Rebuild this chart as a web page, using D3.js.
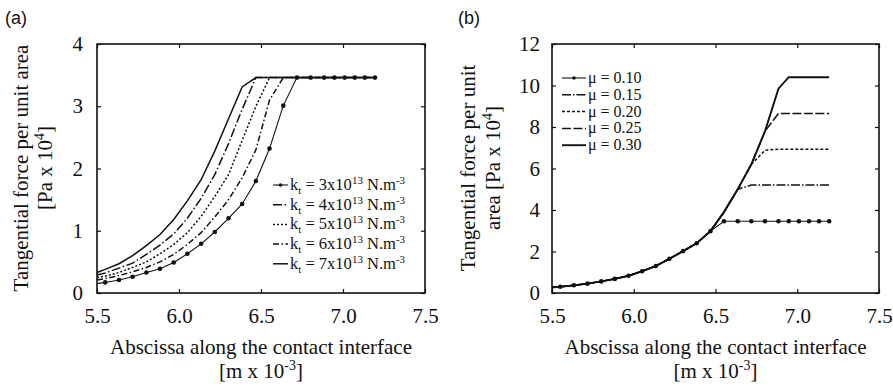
<!DOCTYPE html>
<html>
<head>
<meta charset="utf-8">
<script src="https://cdn.jsdelivr.net/npm/d3@7"></script>
<style>
  body { margin: 0; background: #fff; }
  svg { display: block; }
  text { font-family: "Liberation Serif", "Times New Roman", serif; fill: #111; }
</style>
</head>
<body>
<script>
// shared abscissa grid [m x 10^-3]
const xGrid = [5.5, 5.55, 5.634, 5.717, 5.801, 5.884, 5.968, 6.051, 6.135, 6.218, 6.302, 6.385, 6.469,
  6.552, 6.636, 6.719, 6.803, 6.885, 6.948, 7.01, 7.072, 7.133, 7.195];

// panel (a): stiffness kt
const ktLabels = ["3", "4", "5", "6", "7"];
const kt3 = [0.15, 0.17, 0.21, 0.26, 0.33, 0.39, 0.49, 0.63, 0.79, 0.98, 1.2, 1.43, 1.8,
  2.32, 3.01, 3.46, 3.46, 3.46, 3.46, 3.46, 3.46, 3.46, 3.46];
const kt4 = [0.29, 0.32, 0.4, 0.48, 0.62, 0.77, 0.95, 1.2, 1.52, 1.9, 2.4, 2.95, 3.46,
  3.46, 3.46, 3.46, 3.46, 3.46, 3.46, 3.46, 3.46, 3.46, 3.46];
const kt5 = [0.25, 0.27, 0.33, 0.41, 0.5, 0.63, 0.78, 0.97, 1.23, 1.55, 1.9, 2.45, 3.0,
  3.46, 3.46, 3.46, 3.46, 3.46, 3.46, 3.46, 3.46, 3.46, 3.46];
const kt6 = [0.21, 0.23, 0.28, 0.34, 0.41, 0.5, 0.62, 0.78, 0.97, 1.22, 1.5, 1.85, 2.3,
  3.1, 3.46, 3.46, 3.46, 3.46, 3.46, 3.46, 3.46, 3.46, 3.46];
const kt7 = [0.33, 0.38, 0.47, 0.6, 0.76, 0.94, 1.18, 1.48, 1.82, 2.28, 2.8, 3.31, 3.46,
  3.46, 3.46, 3.46, 3.46, 3.46, 3.46, 3.46, 3.46, 3.46, 3.46];

// panel (b): friction coefficient mu
const muLabels = ["0.10", "0.15", "0.20", "0.25", "0.30"];
const mu10 = [0.27, 0.3, 0.37, 0.45, 0.56, 0.68, 0.83, 1.05, 1.3, 1.65, 2.02, 2.4, 2.98,
  3.46, 3.46, 3.46, 3.46, 3.46, 3.46, 3.46, 3.46, 3.46, 3.46];
const mu15 = [0.27, 0.3, 0.37, 0.45, 0.56, 0.68, 0.83, 1.05, 1.3, 1.65, 2.02, 2.4, 2.98,
  3.9, 5.0, 5.2, 5.2, 5.2, 5.2, 5.2, 5.2, 5.2, 5.2];
const mu20 = [0.27, 0.3, 0.37, 0.45, 0.56, 0.68, 0.83, 1.05, 1.3, 1.65, 2.02, 2.4, 2.98,
  3.9, 5.0, 6.2, 6.88, 6.93, 6.93, 6.93, 6.93, 6.93, 6.93];
const mu25 = [0.27, 0.3, 0.37, 0.45, 0.56, 0.68, 0.83, 1.05, 1.3, 1.65, 2.02, 2.4, 2.98,
  3.9, 5.0, 6.2, 7.8, 8.65, 8.65, 8.65, 8.65, 8.65, 8.65];
const mu30 = [0.27, 0.3, 0.37, 0.45, 0.56, 0.68, 0.83, 1.05, 1.3, 1.65, 2.02, 2.4, 2.98,
  3.9, 5.0, 6.2, 7.8, 9.85, 10.4, 10.4, 10.4, 10.4, 10.4];

const xTicks = [5.5, 6.0, 6.5, 7.0, 7.5];
const yTicksA = [0, 1, 2, 3, 4];
const yTicksB = [0, 2, 4, 6, 8, 10, 12];

const serif = "'Liberation Serif', 'Times New Roman', serif";

const svg = d3.select("body").append("svg")
  .attr("width", 893)
  .attr("height", 388);

function drawPanel(cfg) {
  const x = d3.scaleLinear().domain([5.5, 7.5]).range([cfg.left, cfg.right]);
  const y = d3.scaleLinear().domain([0, cfg.yMax]).range([293, 44]);
  const g = svg.append("g");

  // inside ticks on all four sides
  const tick = 4;
  const axes = [];
  axes.push(g.append("g").attr("transform", "translate(0,293)")
    .call(d3.axisBottom(x).tickValues(xTicks).tickFormat(d3.format(".1f"))
      .tickSizeInner(-tick).tickSizeOuter(0).tickPadding(15)));
  axes.push(g.append("g").attr("transform", "translate(0,44)")
    .call(d3.axisTop(x).tickValues(xTicks).tickFormat("").tickSizeInner(-tick).tickSizeOuter(0)));
  axes.push(g.append("g").attr("transform", "translate(" + cfg.left + ",0)")
    .call(d3.axisLeft(y).tickValues(cfg.yTicks).tickFormat(d3.format("d"))
      .tickSizeInner(-tick).tickSizeOuter(0).tickPadding(cfg.yPad)));
  axes.push(g.append("g").attr("transform", "translate(" + cfg.right + ",0)")
    .call(d3.axisRight(y).tickValues(cfg.yTicks).tickFormat("").tickSizeInner(-tick).tickSizeOuter(0)));
  axes.forEach(a => a.attr("font-family", serif).attr("font-size", 21));
  g.selectAll(".domain").remove();
  g.selectAll(".tick line").attr("stroke", "#111").attr("stroke-width", 1.2);
  g.selectAll(".tick text")
    .attr("font-family", serif)
    .style("font-family", serif)
    .style("font-size", "21px")
    .attr("fill", "#111");

  // plot frame
  g.append("rect")
    .attr("x", cfg.left).attr("y", 44)
    .attr("width", cfg.right - cfg.left).attr("height", 249)
    .attr("fill", "none").attr("stroke", "#111").attr("stroke-width", 1.6);

  const line = d3.line().x((d, i) => x(xGrid[i])).y(d => y(d));

  cfg.series.forEach(s => {
    g.append("path")
      .datum(s.values)
      .attr("d", line)
      .attr("fill", "none")
      .attr("stroke", "#111")
      .attr("stroke-width", s.width)
      .attr("stroke-dasharray", s.dash);
  });

  // markers on the first series (skip the start point on the axis)
  const marked = cfg.series.find(s => s.marker);
  g.selectAll("circle.pt")
    .data(marked.values.slice(1))
    .enter().append("circle")
    .attr("class", "pt")
    .attr("cx", (d, i) => x(xGrid[i + 1]))
    .attr("cy", d => y(d))
    .attr("r", 2.3)
    .attr("fill", "#111");

  // legend
  const leg = g.append("g");
  cfg.legendOrder.forEach((s, i) => {
    const ly = cfg.legY + i * cfg.legStep;
    leg.append("line")
      .attr("x1", cfg.legX).attr("x2", cfg.legX + cfg.legLen)
      .attr("y1", ly).attr("y2", ly)
      .attr("stroke", "#111").attr("stroke-width", s.width)
      .attr("stroke-dasharray", s.dash);
    if (s.marker) {
      leg.append("circle").attr("cx", cfg.legX + cfg.legLen / 2).attr("cy", ly)
        .attr("r", 1.8).attr("fill", "#111");
    }
    const t = leg.append("text")
      .attr("x", cfg.legX + cfg.legLen + 2)
      .attr("y", ly + 5)
      .style("font-family", serif)
      .style("font-size", cfg.legFont + "px");
    cfg.legendText(t, s.label);
  });

  // axis titles
  const cx = (cfg.left + cfg.right) / 2;
  g.append("text").attr("x", cx).attr("y", 354).attr("text-anchor", "middle")
    .style("font-size", "21px").text("Abscissa along the contact interface");
  const xt2 = g.append("text").attr("x", cx).attr("y", 378).attr("text-anchor", "middle")
    .style("font-size", "21px");
  xt2.append("tspan").text("[m x 10");
  xt2.append("tspan").attr("dy", -8).style("font-size", "14px").text("-3");
  xt2.append("tspan").attr("dy", 8).text("]");

  const cy = 168;
  g.append("text").attr("transform", "translate(" + cfg.yt1 + "," + cy + ") rotate(-90)")
    .attr("text-anchor", "middle").style("font-size", "21px").text(cfg.yLine1);
  const yt2 = g.append("text").attr("transform", "translate(" + cfg.yt2 + "," + cy + ") rotate(-90)")
    .attr("text-anchor", "middle").style("font-size", "21px");
  yt2.append("tspan").text(cfg.yLine2);
  yt2.append("tspan").attr("dy", -8).style("font-size", "14px").text("4");
  yt2.append("tspan").attr("dy", 8).text("]");

  // panel letter
  g.append("text").attr("x", cfg.tagX).attr("y", 24)
    .style("font-family", "'Liberation Sans', Arial, sans-serif")
    .style("font-size", "18px").text(cfg.tag);
}

function ktText(t, label) {
  t.append("tspan").text("k");
  t.append("tspan").attr("dy", 4).style("font-size", "11px").text("t");
  t.append("tspan").attr("dy", -4).text(" = " + label + "x10");
  t.append("tspan").attr("dy", -6).style("font-size", "11px").text("13");
  t.append("tspan").attr("dy", 6).text(" N.m");
  t.append("tspan").attr("dy", -6).style("font-size", "11px").text("-3");
}

function muText(t, label) {
  t.text("\u03bc = " + label);
}

const seriesA = [
  { values: kt3, label: ktLabels[0], dash: null, width: 1.1, marker: true },
  { values: kt4, label: ktLabels[1], dash: "9,2.5,1.5,2.5", width: 1.5 },
  { values: kt5, label: ktLabels[2], dash: "2,2", width: 1.5 },
  { values: kt6, label: ktLabels[3], dash: "6,2.5,1.5,2.5", width: 1.5 },
  { values: kt7, label: ktLabels[4], dash: null, width: 1.5 }
];

drawPanel({
  left: 97, right: 425, yMax: 4, yTicks: yTicksA, yPad: 14,
  series: seriesA, legendOrder: seriesA, legendText: ktText,
  legX: 273, legY: 185, legStep: 19.7, legLen: 15, legFont: 16.5,
  yt1: 28, yt2: 52,
  yLine1: "Tangential force per unit area", yLine2: "[Pa x 10",
  tag: "(a)", tagX: 5
});

const seriesB = [
  { values: mu10, label: muLabels[0], dash: null, width: 1.1, marker: true },
  { values: mu15, label: muLabels[1], dash: "9,2,1.5,2", width: 1.5 },
  { values: mu20, label: muLabels[2], dash: "3,2", width: 1.5 },
  { values: mu25, label: muLabels[3], dash: "9,2.5", width: 1.5 },
  { values: mu30, label: muLabels[4], dash: null, width: 1.9 }
];

drawPanel({
  left: 552, right: 879, yMax: 12, yTicks: yTicksB, yPad: 12,
  series: seriesB.slice().reverse(), legendOrder: seriesB, legendText: muText,
  legX: 562, legY: 78, legStep: 16.8, legLen: 24, legFont: 16,
  yt1: 475, yt2: 500,
  yLine1: "Tangential force per unit", yLine2: "area [Pa x 10",
  tag: "(b)", tagX: 458
});
</script>
</body>
</html>
